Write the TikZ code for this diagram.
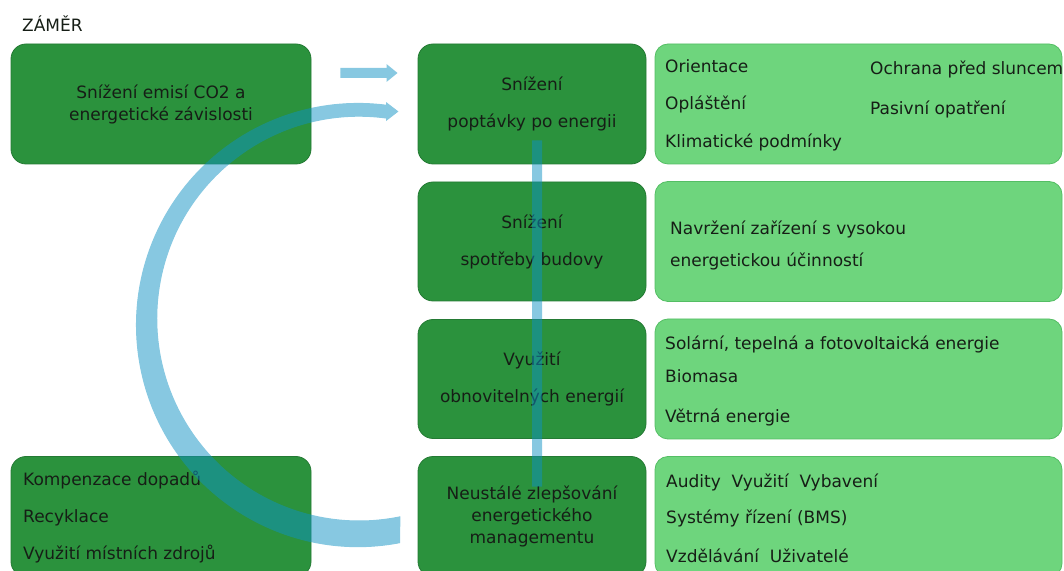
\documentclass[tikz,border=0pt]{standalone}
\usepackage{fontspec}
\setmainfont{DejaVu Sans}
\usetikzlibrary{arrows.meta}

\definecolor{boxdark}{RGB}{43,146,61}
\definecolor{boxdarkline}{RGB}{36,122,52}
\definecolor{boxlight}{RGB}{110,213,125}
\definecolor{boxlightline}{RGB}{84,190,100}
\definecolor{flowblue}{RGB}{15,145,195}
\definecolor{ink}{RGB}{22,30,22}

\tikzset{
  darkbox/.style={draw=boxdarkline, fill=boxdark, line width=0.8pt,
    rounded corners=15pt, align=center, text=ink, inner sep=0pt},
  lightbox/.style={draw=boxlightline, fill=boxlight, line width=0.8pt,
    rounded corners=13pt, minimum width=407pt, minimum height=120pt},
  item/.style={anchor=base west, inner sep=0pt, text=ink},
  flow/.style={draw=flowblue, fill=flowblue},
}

\begin{document}
\begin{tikzpicture}[x=1pt, y=1pt, font=\fontsize{17}{22}\selectfont]
    \useasboundingbox (0,0) rectangle (1064,570);

    \node[item] (title) at (22,538) {ZÁMĚR};

    % left column
    \node[darkbox, minimum width=300pt, minimum height=120pt] (goal) at (161,466)
        {Snížení emisí CO2 a\\energetické závislosti};
    \node[darkbox, minimum width=300pt, minimum height=120pt] (local) at (161,53.5) {};
    \node[item] (impact) at (23,85) {Kompenzace dopadů};
    \node[item] (recycle) at (23,48) {Recyklace};
    \node[item] (resources) at (23,11) {Využití místních zdrojů};

    % middle column
    \node[darkbox, minimum width=228pt, minimum height=120pt] (demand) at (532,466)
        {Snížení\\[15pt]poptávky po energii};
    \node[darkbox, minimum width=228pt, minimum height=119pt] (consumption) at (532,328.5)
        {Snížení\\[15pt]spotřeby budovy};
    \node[darkbox, minimum width=228pt, minimum height=119pt] (renewable) at (532,191)
        {Využití\\[15pt]obnovitelných energií};
    \node[darkbox, minimum width=228pt, minimum height=120pt] (management) at (532,53.5)
        {Neustálé zlepšování\\energetického\\managementu};

    % right column
    \foreach \y/\n in {466/passive, 328.5/efficient, 191/sources, 53.5/control}
        \node[lightbox] (\n) at (858.5,\y) {};

    \node[item] (orient) at (665,497) {Orientace};
    \node[item] (shade) at (870,495) {Ochrana před sluncem};
    \node[item] (envelope) at (665,460) {Opláštění};
    \node[item] (measures) at (870,455) {Pasivní opatření};
    \node[item] (climate) at (665,422) {Klimatické podmínky};

    \node[item] (design) at (670,335) {Navržení zařízení s vysokou};
    \node[item] (design2) at (670,303) {energetickou účinností};

    \node[item] (solar) at (665,220) {Solární, tepelná a fotovoltaická energie};
    \node[item] (biomass) at (665,187) {Biomasa};
    \node[item] (wind) at (665,147) {Větrná energie};

    \node[item] (audits) at (666,83) {Audity~~Využití~~Vybavení};
    \node[item] (bms) at (666,47) {Systémy řízení (BMS)};
    \node[item] (users) at (666,8) {Vzdělávání~~Uživatelé};

    % flows
    \begin{scope}[transparency group, opacity=0.5]
        \draw[flow, line width=10pt, -{Triangle[length=11pt, width=17pt]}]
            ([shift={(29,31)}]goal.east) -- ([shift={(-20,31)}]demand.west);
        \draw[flow, line width=10pt] ([shift={(5,24)}]demand.south)
            -- ([shift={(5,-30.5)}]management.north);
        \coordinate (loopin) at ([shift={(-18,-26.2)}]management.west);
        \fill[flow] (loopin) arc[start angle=-79.2, end angle=-277.4, radius=221.6]
            -- ++(0,2.2) -- ([shift={(-20,-7.5)}]demand.west) -- ++(-11,-8.5)
            -- ++(0,1.9) arc[start angle=82.2, end angle=281.6, radius=202.4] -- cycle;
    \end{scope}
\end{tikzpicture}
\end{document}
